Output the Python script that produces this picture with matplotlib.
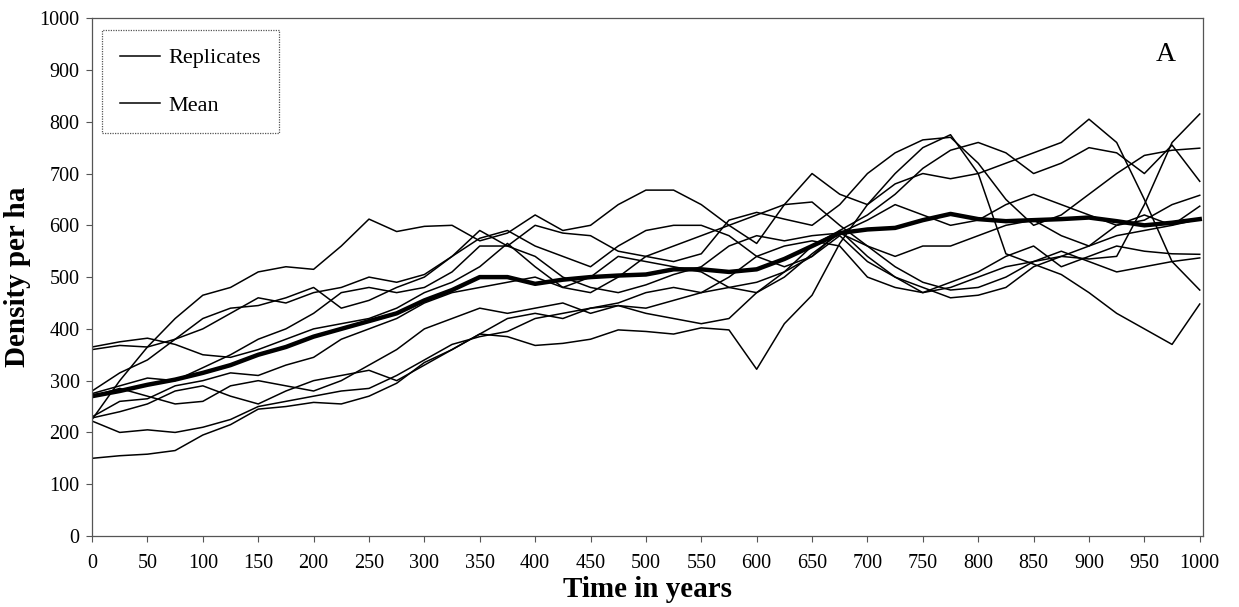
import numpy as np
import matplotlib.pyplot as plt
from matplotlib.lines import Line2D

# time axis (years), one reading every 25 years
years = list(range(0, 1001, 25))

# replicate runs
rep_a = [150, 155, 158, 165, 195, 215, 245, 250, 258, 255, 270, 295, 335, 360, 390, 385, 368,
         372, 380, 398, 395, 390, 402, 398, 322, 410, 465, 565, 640, 700, 750, 775, 700, 545,
         525, 505, 470, 430, 400, 370, 448]
rep_b = [225, 300, 365, 420, 465, 480, 510, 520, 515, 560, 612, 588, 598, 600, 570, 585, 620,
         590, 600, 640, 668, 668, 640, 600, 565, 640, 700, 660, 640, 680, 700, 690, 700, 720,
         740, 760, 805, 760, 650, 530, 475]
rep_c = [365, 375, 382, 370, 350, 345, 360, 380, 400, 410, 420, 440, 470, 490, 520, 565, 520,
         480, 470, 500, 540, 560, 580, 600, 620, 640, 645, 600, 560, 520, 490, 475, 480, 500,
         530, 540, 535, 540, 640, 760, 815]
rep_d = [360, 368, 365, 380, 420, 440, 445, 460, 480, 440, 455, 480, 500, 540, 590, 560, 600,
         585, 580, 550, 540, 530, 545, 610, 625, 612, 600, 640, 700, 740, 765, 770, 720, 650,
         600, 620, 660, 700, 735, 745, 749]
rep_e = [280, 315, 340, 380, 400, 430, 460, 450, 470, 480, 500, 490, 505, 540, 575, 590, 560,
         540, 520, 560, 590, 600, 600, 580, 540, 520, 540, 590, 620, 660, 710, 745, 760, 740,
         700, 720, 750, 740, 700, 755, 685]
rep_f = [275, 290, 305, 300, 325, 350, 380, 400, 430, 470, 480, 470, 480, 510, 560, 560, 540,
         500, 480, 470, 485, 505, 520, 560, 580, 570, 580, 585, 610, 640, 620, 600, 610, 640,
         660, 640, 620, 600, 610, 640, 658]
rep_g = [230, 260, 265, 290, 300, 315, 310, 330, 345, 380, 400, 420, 450, 470, 480, 490, 500,
         480, 500, 540, 530, 520, 510, 480, 470, 500, 545, 585, 560, 540, 560, 560, 580, 600,
         610, 580, 560, 600, 620, 600, 637]
rep_h = [222, 200, 205, 200, 210, 225, 250, 260, 270, 280, 285, 310, 340, 370, 385, 395, 420,
         430, 440, 445, 430, 420, 410, 420, 470, 510, 540, 580, 530, 500, 480, 460, 465, 480,
         520, 540, 560, 580, 590, 600, 612]
rep_i = [270, 285, 270, 255, 260, 290, 300, 290, 280, 300, 330, 360, 400, 420, 440, 430, 440,
         450, 430, 445, 440, 455, 470, 500, 540, 560, 570, 560, 500, 480, 470, 490, 510, 540,
         560, 520, 540, 560, 550, 545, 544]
rep_j = [228, 240, 255, 280, 290, 270, 255, 280, 300, 310, 320, 300, 330, 360, 390, 420, 430,
         420, 440, 450, 470, 480, 470, 480, 490, 510, 560, 590, 540, 500, 470, 480, 500, 520,
         530, 550, 530, 510, 520, 530, 537]

mean_density = [270, 280, 292, 302, 315, 330, 350, 365, 385, 400, 415, 430, 455, 475, 500, 500,
                487, 495, 500, 503, 505, 515, 515, 510, 515, 535, 560, 585, 592, 595, 610, 622,
                612, 608, 610, 612, 615, 608, 600, 605, 612]

replicates = [rep_a, rep_b, rep_c, rep_d, rep_e, rep_f, rep_g, rep_h, rep_i, rep_j]

plt.rcParams['font.family'] = ['Liberation Serif', 'DejaVu Serif']

fig = plt.figure(figsize=(12.39, 6.07), dpi=100)
ax = fig.add_axes([0.0743, 0.117, 0.8967, 0.853])

for rep in replicates:
    ax.plot(years, rep, color='black', linewidth=1.1)
ax.plot(years, mean_density, color='black', linewidth=3.2)

ax.set_xlim(0, 1003)
ax.set_ylim(0, 1000)
ax.set_xticks(range(0, 1001, 50))
ax.set_yticks(range(0, 1001, 100))
ax.tick_params(axis='both', direction='out', length=4, width=0.8, color='#555555',
               labelsize=14.5, pad=5)
ax.tick_params(axis='x', pad=9)

for spine in ax.spines.values():
    spine.set_color('#555555')
    spine.set_linewidth(0.9)
    spine.set_linestyle((0, (1, 1)))

ax.set_xlabel('Time in years', fontsize=21, fontweight='bold', labelpad=2)
ax.set_ylabel('Density per ha', fontsize=21, fontweight='bold', labelpad=6)

ax.text(0.966, 0.93, 'A', transform=ax.transAxes, fontsize=20, ha='center', va='center')

handles = [Line2D([], [], color='black', linewidth=1.1),
           Line2D([], [], color='black', linewidth=1.1)]
leg = ax.legend(handles, ['Replicates', 'Mean'], loc='upper left',
                bbox_to_anchor=(0.009, 0.977), borderaxespad=0, fontsize=16,
                handlelength=1.8, handletextpad=0.4, labelspacing=1.2,
                borderpad=0.8, fancybox=False, framealpha=1)
leg.get_frame().set_edgecolor('#555555')
leg.get_frame().set_linewidth(0.9)
leg.get_frame().set_linestyle((0, (1, 1)))

fig.savefig('out.png', dpi=100)
